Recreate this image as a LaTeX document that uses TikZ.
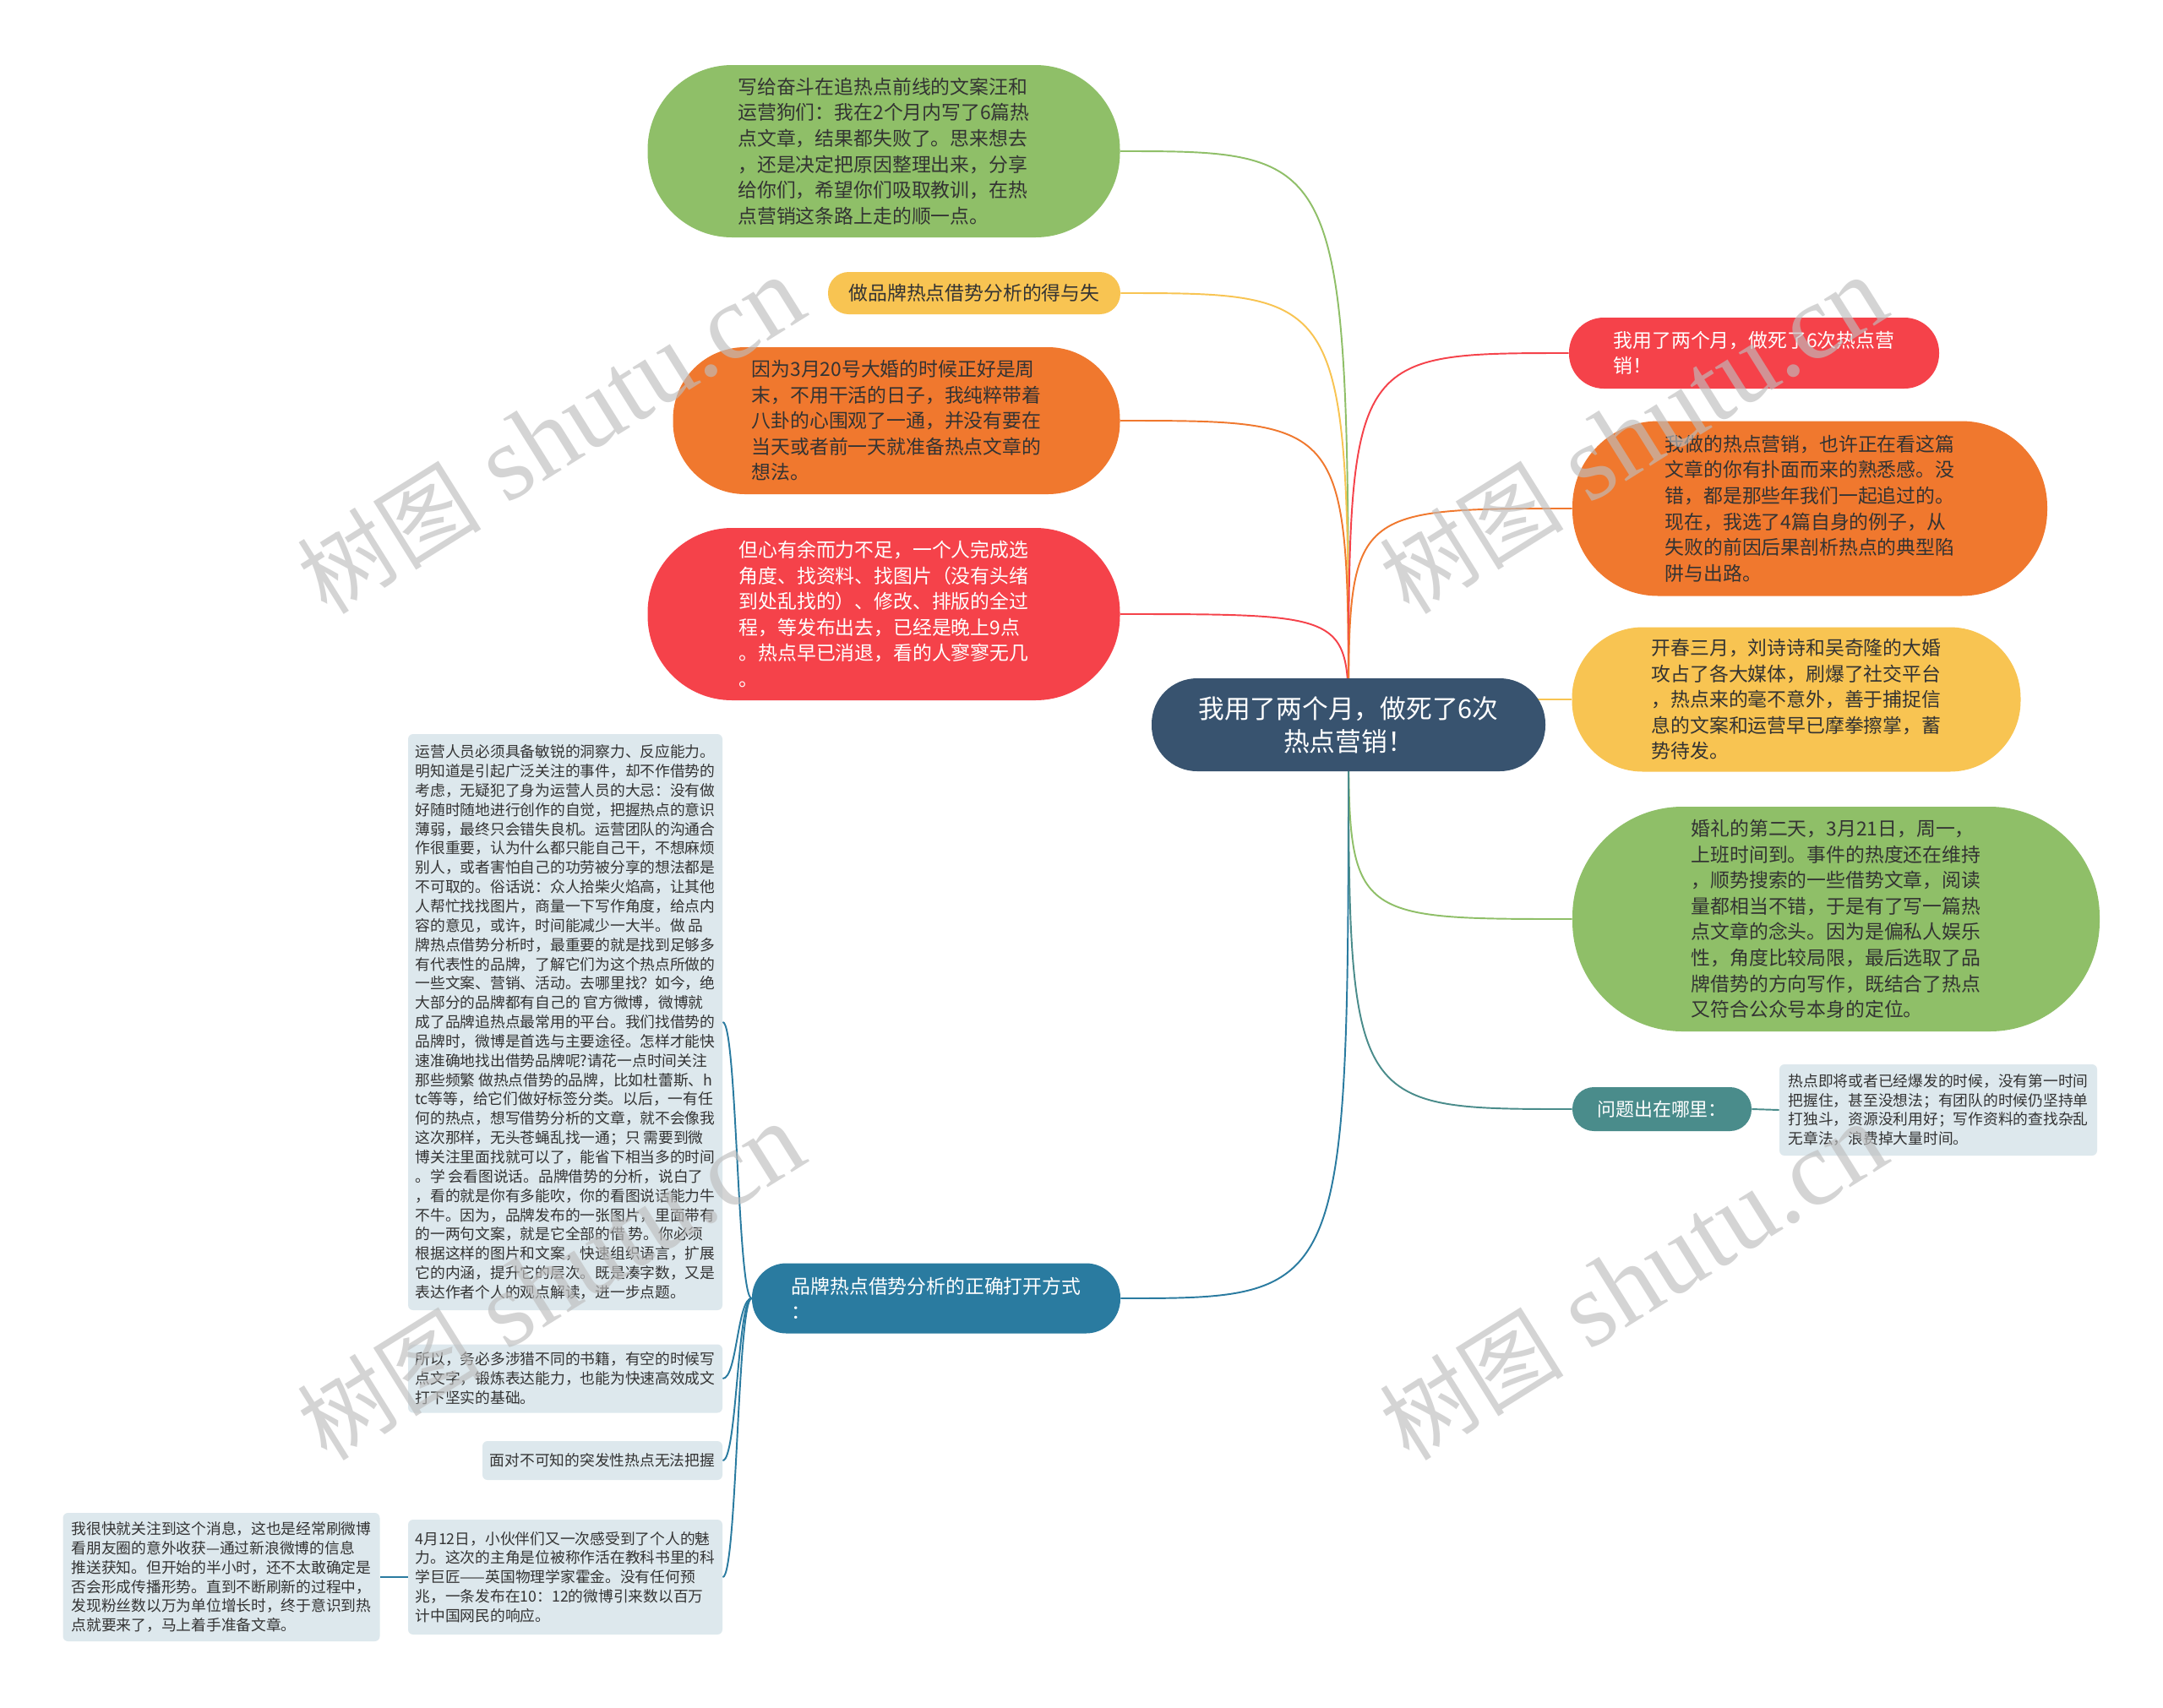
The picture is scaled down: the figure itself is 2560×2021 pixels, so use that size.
\documentclass[tikz,border=0pt]{standalone}
\usepackage{fontspec}
\setmainfont{Noto Sans CJK SC}
\newfontfamily\wmfont{Liberation Serif}

\definecolor{rootblue}{HTML}{38536F}
\definecolor{leafgreen}{HTML}{8FBF68}
\definecolor{leafyellow}{HTML}{F8C452}
\definecolor{leaforange}{HTML}{F0782E}
\definecolor{leafred}{HTML}{F5424A}
\definecolor{branchblue}{HTML}{2A7BA0}
\definecolor{branchteal}{HTML}{4A8C8B}
\definecolor{notebg}{HTML}{DDE8ED}
\definecolor{darktext}{HTML}{333333}
\definecolor{wmgray}{HTML}{BEBEBE}

\pgfdeclarelayer{paper}
\pgfdeclarelayer{links}
\pgfsetlayers{paper,links,main}

\tikzset{
  pill/.style 2 args={inner sep=0pt, minimum width=#1*0.2mm,
    minimum height=#2*0.2mm, rounded corners=#2*0.098mm},
  bigtext/.style={font=\fontsize{13pt}{17.4pt}\selectfont, align=left},
  note/.style 2 args={fill=notebg, inner sep=0pt, minimum width=#1*0.2mm,
    minimum height=#2*0.2mm, rounded corners=1.2mm, text=darktext,
    font=\fontsize{10.1pt}{13pt}\selectfont, align=left},
  link/.style={line width=1.1pt},
  watermark/.style={text=wmgray, text opacity=0.65, rotate=32,
    font=\wmfont\fontsize{72pt}{72pt}\selectfont}
}

\begin{document}
\begin{tikzpicture}[x=0.2mm, y=-0.2mm]

  % The paper
  \begin{pgfonlayer}{paper}
    \fill[white] (0,0) rectangle (2560,2021);
  \end{pgfonlayer}
  \useasboundingbox (0,0) rectangle (2560,2021);

  \def \xLeft  {1046}
  \def \xRight {1861}

  % Root
  \node[pill={466}{110}, fill=rootblue, text=white, align=center,
    font=\fontsize{17.5pt}{22.2pt}\selectfont] (root) at (1596, 858)
    {我用了两个月，做死了6次\\热点营销！};

  % Left leaves
  \node[pill={559}{204}, fill=leafgreen, text=darktext, bigtext] (gtop) at (\xLeft, 179)
    {写给奋斗在追热点前线的文案汪和\\
     运营狗们：我在2个月内写了6篇热\\
     点文章，结果都失败了。思来想去\\
     ，还是决定把原因整理出来，分享\\
     给你们，希望你们吸取教训，在热\\
     点营销这条路上走的顺一点。};

  \node[pill={346}{50}, fill=leafyellow, text=darktext, bigtext] (ytop) at (1153, 347)
    {做品牌热点借势分析的得与失};

  \node[pill={529}{174}, fill=leaforange, text=darktext, bigtext] (otop) at (1061, 498)
    {因为3月20号大婚的时候正好是周\\
     末，不用干活的日子，我纯粹带着\\
     八卦的心围观了一通，并没有要在\\
     当天或者前一天就准备热点文章的\\
     想法。};

  \node[pill={559}{204}, fill=leafred, text=white, bigtext] (rtop) at (\xLeft, 727)
    {但心有余而力不足，一个人完成选\\
     角度、找资料、找图片（没有头绪\\
     到处乱找的）、修改、排版的全过\\
     程，等发布出去，已经是晚上9点\\
     。热点早已消退，看的人寥寥无几\\
     。};

  \node[pill={436}{83}, fill=branchblue, text=white, bigtext] (bbranch) at (1108, 1537)
    {品牌热点借势分析的正确打开方式\\
     ：};

  % Right leaves
  \node[pill={438}{84}, fill=leafred, text=white, bigtext] (rred) at (2076, 418)
    {我用了两个月，做死了6次热点营\\
     销！};

  \node[pill={562}{207}, fill=leaforange, text=darktext, bigtext] (rorange) at (2142, 602)
    {我做的热点营销，也许正在看这篇\\
     文章的你有扑面而来的熟悉感。没\\
     错，都是那些年我们一起追过的。\\
     现在，我选了4篇自身的例子，从\\
     失败的前因后果剖析热点的典型陷\\
     阱与出路。};

  \node[pill={531}{171}, fill=leafyellow, text=darktext, bigtext] (ryellow) at (2126, 828)
    {开春三月，刘诗诗和吴奇隆的大婚\\
     攻占了各大媒体，刷爆了社交平台\\
     ，热点来的毫不意外，善于捕捉信\\
     息的文案和运营早已摩拳擦掌，蓄\\
     势待发。};

  \node[pill={624}{266}, fill=leafgreen, text=darktext, bigtext] (rgreen) at (2173, 1088)
    {婚礼的第二天，3月21日，周一，\\
     上班时间到。事件的热度还在维持\\
     ，顺势搜索的一些借势文章，阅读\\
     量都相当不错，于是有了写一篇热\\
     点文章的念头。因为是偏私人娱乐\\
     性，角度比较局限，最后选取了品\\
     牌借势的方向写作，既结合了热点\\
     又符合公众号本身的定位。};

  \node[pill={212}{52}, fill=branchteal, text=white,
    font=\fontsize{12.5pt}{15pt}\selectfont] (tbranch) at (1967, 1313)
    {问题出在哪里：};

  \node[note={376}{108}] (tnote) at (2294, 1314)
    {热点即将或者已经爆发的时候，没有第一时间\\
     把握住，甚至没想法；有团队的时候仍坚持单\\
     打独斗，资源没利用好；写作资料的查找杂乱\\
     无章法，浪费掉大量时间。};

  % Notes under the blue branch
  \node[note={372}{682}] (longnote) at (669, 1210)
    {运营人员必须具备敏锐的洞察力、反应能力。\\
     明知道是引起广泛关注的事件，却不作借势的\\
     考虑，无疑犯了身为运营人员的大忌：没有做\\
     好随时随地进行创作的自觉，把握热点的意识\\
     薄弱，最终只会错失良机。运营团队的沟通合\\
     作很重要，认为什么都只能自己干，不想麻烦\\
     别人，或者害怕自己的功劳被分享的想法都是\\
     不可取的。俗话说：众人拾柴火焰高，让其他\\
     人帮忙找找图片，商量一下写作角度，给点内\\
     容的意见，或许，时间能减少一大半。做 品\\
     牌热点借势分析时，最重要的就是找到足够多\\
     有代表性的品牌，了解它们为这个热点所做的\\
     一些文案、营销、活动。去哪里找？如今，绝\\
     大部分的品牌都有自己的 官方微博，微博就\\
     成了品牌追热点最常用的平台。我们找借势的\\
     品牌时，微博是首选与主要途径。怎样才能快\\
     速准确地找出借势品牌呢?请花一点时间关注\\
     那些频繁 做热点借势的品牌，比如杜蕾斯、h\\
     tc等等，给它们做好标签分类。以后，一有任\\
     何的热点，想写借势分析的文章，就不会像我\\
     这次那样，无头苍蝇乱找一通；只 需要到微\\
     博关注里面找就可以了，能省下相当多的时间\\
     。学 会看图说话。品牌借势的分析，说白了\\
     ，看的就是你有多能吹，你的看图说话能力牛\\
     不牛。因为，品牌发布的一张图片，里面带有\\
     的一两句文案，就是它全部的借 势。你必须\\
     根据这样的图片和文案，快速组织语言，扩展\\
     它的内涵，提升它的层次。既是凑字数，又是\\
     表达作者个人的观点解读，进一步点题。};

  \node[note={372}{81}] (suoyi) at (669, 1632)
    {所以，务必多涉猎不同的书籍，有空的时候写\\
     点文字，锻炼表达能力，也能为快速高效成文\\
     打下坚实的基础。};

  \node[note={284}{46}] (mianui) at (713, 1729)
    {面对不可知的突发性热点无法把握};

  \node[note={372}{136}] (april) at (669, 1867)
    {4月12日，小伙伴们又一次感受到了个人的魅\\
     力。这次的主角是位被称作活在教科书里的科\\
     学巨匠——英国物理学家霍金。没有任何预\\
     兆，一条发布在10：12的微博引来数以百万\\
     计中国网民的响应。};

  \node[note={375}{152}] (wohen) at (262, 1867)
    {我很快就关注到这个消息，这也是经常刷微博\\
     看朋友圈的意外收获—通过新浪微博的信息\\
     推送获知。但开始的半小时，还不太敢确定是\\
     否会形成传播形势。直到不断刷新的过程中，\\
     发现粉丝数以万为单位增长时，终于意识到热\\
     点就要来了，马上着手准备文章。};

  % LINES
  \begin{pgfonlayer}{links}
    \draw[link, leafgreen]  (root.center) .. controls (root.center |- gtop.east) .. (gtop.east);
    \draw[link, leafyellow] (root.center) .. controls (root.center |- ytop.east) .. (ytop.east);
    \draw[link, leaforange] (root.center) .. controls (root.center |- otop.east) .. (otop.east);
    \draw[link, leafred]    (root.center) .. controls (root.center |- rtop.east) .. (rtop.east);
    \draw[link, branchblue] (root.center) .. controls (root.center |- bbranch.east) .. (bbranch.east);

    \draw[link, leafred]    (root.center) .. controls (root.center |- rred.west) .. (rred.west);
    \draw[link, leaforange] (root.center) .. controls (root.center |- rorange.west) .. (rorange.west);
    \draw[link, leafyellow] (root.center) .. controls (root.center |- ryellow.west) .. (ryellow.west);
    \draw[link, leafgreen]  (root.center) .. controls (root.center |- rgreen.west) .. (rgreen.west);
    \draw[link, branchteal] (root.center) .. controls (root.center |- tbranch.west) .. (tbranch.west);

    % second level
    \draw[link, branchteal] (tbranch.east) -- (tnote.west);
    \foreach \kid in {longnote, suoyi, mianui, april}
      \draw[link, branchblue] (bbranch.west) .. controls +(-17,0) and +(17,0) .. (\kid.east);
    \draw[link, branchblue] (april.west) -- (wohen.east);
  \end{pgfonlayer}

  % Watermarks
  \node[watermark] (wmA) at (652, 516)   {{\fontspec{Noto Sans CJK SC}\fontsize{62pt}{62pt}\selectfont 树图} shutu.cn};
  \node[watermark] (wmB) at (1933, 516)  {{\fontspec{Noto Sans CJK SC}\fontsize{62pt}{62pt}\selectfont 树图} shutu.cn};
  \node[watermark] (wmC) at (652, 1518)  {{\fontspec{Noto Sans CJK SC}\fontsize{62pt}{62pt}\selectfont 树图} shutu.cn};
  \node[watermark] (wmD) at (1933, 1518) {{\fontspec{Noto Sans CJK SC}\fontsize{62pt}{62pt}\selectfont 树图} shutu.cn};

\end{tikzpicture}
\end{document}
